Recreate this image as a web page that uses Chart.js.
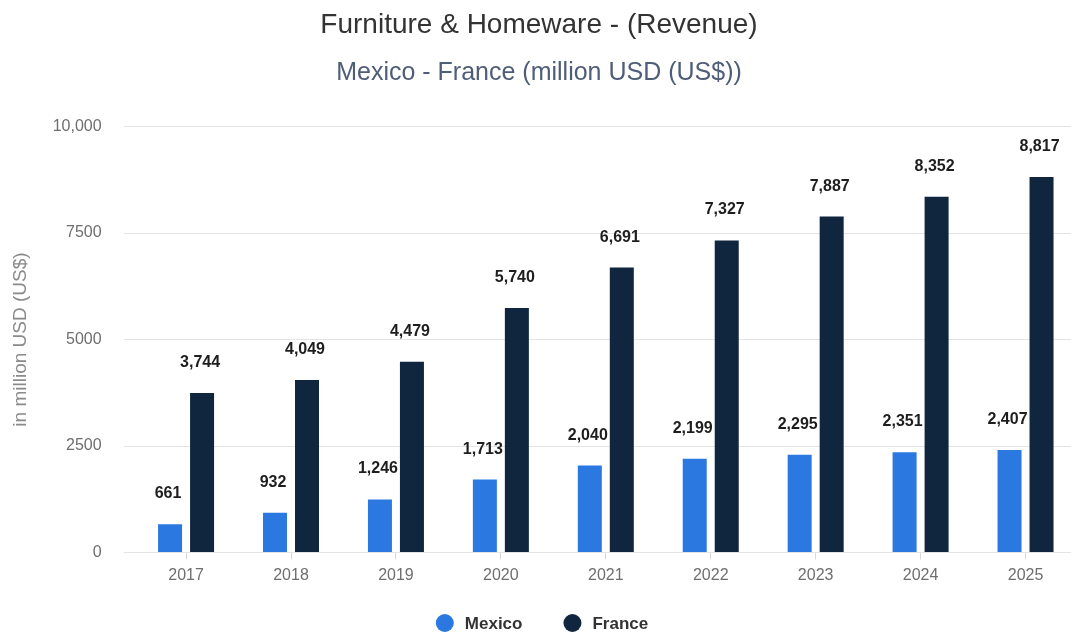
<!DOCTYPE html>
<html>
<head>
<meta charset="utf-8">
<title>Furniture &amp; Homeware - (Revenue)</title>
<script src="https://cdn.jsdelivr.net/npm/chart.js@4.4.1/dist/chart.umd.min.js"></script>
<style>
  html, body { margin: 0; padding: 0; background: #ffffff; overflow: hidden; }
  #wrap { position: relative; width: 1078px; height: 633px; }
</style>
</head>
<body>
<div id="wrap"><canvas id="chart"></canvas></div>
<script>
// Revenue of the furniture & homeware market, million USD
const years = ['2017', '2018', '2019', '2020', '2021', '2022', '2023', '2024', '2025'];
const mexicoRevenue = [661, 932, 1246, 1713, 2040, 2199, 2295, 2351, 2407];
const franceRevenue = [3744, 4049, 4479, 5740, 6691, 7327, 7887, 8352, 8817];
const yTickValues = [0, 2500, 5000, 7500, 10000];
const yTickLabels = ['0', '2500', '5000', '7500', '10,000'];

const FONT = '"Liberation Sans", Arial, Helvetica, sans-serif';
const GRID = '#e4e4e4';

// Value labels above each bar
const barValueLabels = {
  id: 'barValueLabels',
  afterDatasetsDraw(chart) {
    const ctx = chart.ctx;
    ctx.save();
    ctx.font = 'bold 16px ' + FONT;
    ctx.fillStyle = '#1e1e1e';
    ctx.textAlign = 'center';
    ctx.textBaseline = 'alphabetic';
    chart.data.datasets.forEach((ds, i) => {
      const meta = chart.getDatasetMeta(i);
      meta.data.forEach((bar, j) => {
        const text = ds.data[j].toLocaleString('en-US');
        ctx.fillText(text, bar.x - 2, bar.y - 26);
      });
    });
    ctx.restore();
  }
};

// Legend row at the bottom: coloured dot followed by the series name
const dotLegend = {
  id: 'dotLegend',
  afterDraw(chart) {
    const ctx = chart.ctx;
    const radius = 9, textGap = 11, itemGap = 41;
    ctx.save();
    ctx.font = 'bold 17px ' + FONT;
    const items = chart.data.datasets.map(ds => ({
      label: ds.label,
      color: ds.backgroundColor,
      width: radius * 2 + textGap + ctx.measureText(ds.label).width
    }));
    const total = items.reduce((s, it) => s + it.width, 0) + itemGap * (items.length - 1);
    let x = chart.width / 2 - total / 2 + 3;
    const y = chart.height - 9.5;
    ctx.textBaseline = 'middle';
    ctx.textAlign = 'left';
    items.forEach(it => {
      ctx.beginPath();
      ctx.arc(x + radius, y - 0.5, radius, 0, Math.PI * 2);
      ctx.fillStyle = it.color;
      ctx.fill();
      ctx.fillStyle = '#333333';
      ctx.fillText(it.label, x + radius * 2 + textGap, y + 0.5);
      x += it.width + itemGap;
    });
    ctx.restore();
  }
};

new Chart(document.getElementById('chart'), {
  type: 'bar',
  data: {
    labels: years,
    datasets: [
      {
        label: 'Mexico',
        data: mexicoRevenue,
        backgroundColor: '#2b78e0',
        categoryPercentage: 0.61,
        barPercentage: 0.75
      },
      {
        label: 'France',
        data: franceRevenue,
        backgroundColor: '#10263f',
        categoryPercentage: 0.61,
        barPercentage: 0.75
      }
    ]
  },
  options: {
    responsive: true,
    maintainAspectRatio: false,
    animation: false,
    layout: { padding: 0 },
    plugins: {
      title: {
        display: true,
        text: 'Furniture & Homeware - (Revenue)',
        color: '#333333',
        font: { family: FONT, size: 28, weight: 'normal' },
        padding: { top: 8.5, bottom: 0 }
      },
      subtitle: {
        display: true,
        text: 'Mexico - France (million USD (US$))',
        color: '#4f5d78',
        font: { family: FONT, size: 25, weight: 'normal' },
        padding: { top: 16, bottom: 38.5 }
      },
      legend: { display: false },
      tooltip: { enabled: false }
    },
    scales: {
      x: {
        afterFit(scale) { scale.height = 80.5; },
        grid: {
          offset: false,
          drawOnChartArea: false,
          drawTicks: true,
          tickLength: 7,
          color: '#d9d9d9'
        },
        border: { display: true, color: GRID },
        ticks: {
          color: '#6e6e6e',
          padding: 6,
          font: { family: FONT, size: 16 }
        }
      },
      y: {
        min: 0,
        max: 10000,
        afterFit(scale) { scale.width = 133.6; },
        afterBuildTicks(scale) {
          scale.ticks = yTickValues.map(v => ({ value: v }));
        },
        grid: {
          color: GRID,
          drawTicks: true,
          tickLength: 10
        },
        border: { display: false },
        ticks: {
          color: '#6e6e6e',
          padding: 22,
          font: { family: FONT, size: 16 },
          callback(value) {
            const k = yTickValues.indexOf(value);
            return k >= 0 ? yTickLabels[k] : '';
          }
        },
        title: {
          display: true,
          text: 'in million USD (US$)',
          color: '#8a8a8a',
          font: { family: FONT, size: 19 },
          padding: { top: 9, bottom: 0 }
        }
      }
    }
  },
  plugins: [barValueLabels, dotLegend]
});
</script>
</body>
</html>
